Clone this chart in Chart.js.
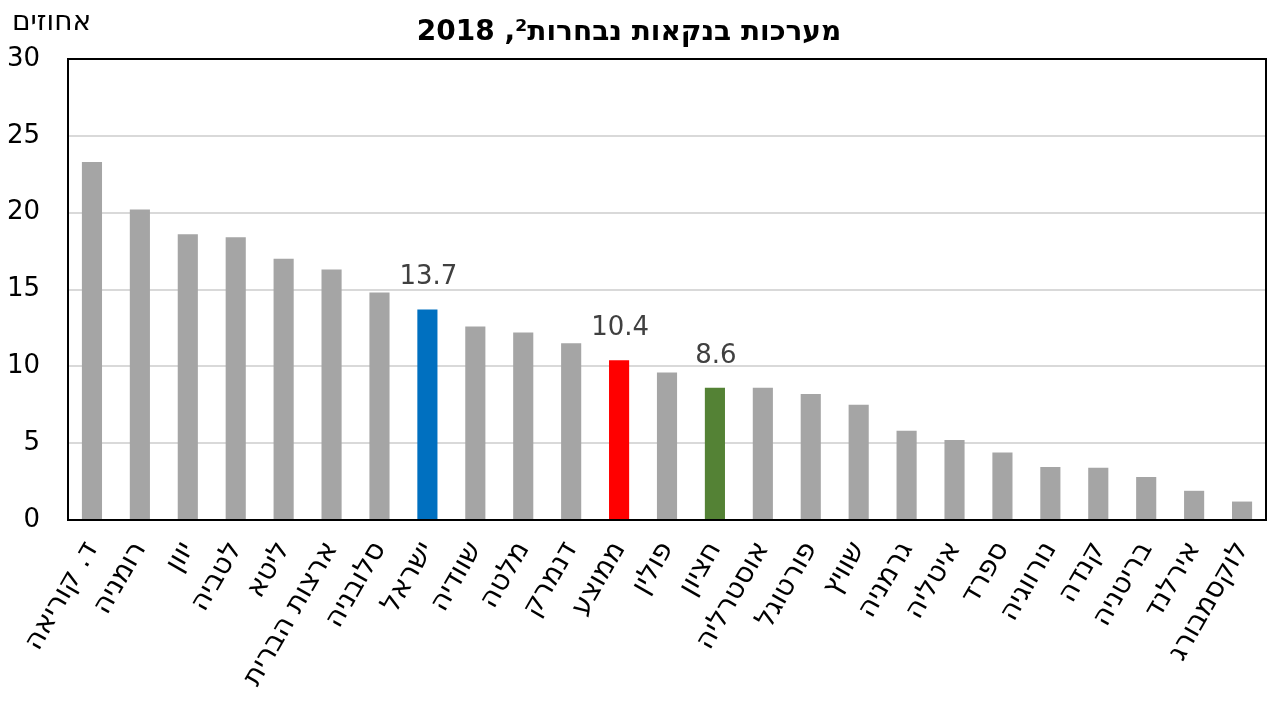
<!DOCTYPE html>
<html>
<head>
<meta charset="utf-8">
<script src="https://cdn.jsdelivr.net/npm/chart.js@4"></script>
<style>
  body { margin: 0; background: #fff; }
  #wrap { position: relative; width: 1268px; height: 702px; }
  #title { position: absolute; left: 0; width: 1258px; top: 14px; text-align: center;
           font: bold 28px "DejaVu Sans", sans-serif; color: #000; }
  #unit { position: absolute; left: 12px; top: 4px; font: 28px "DejaVu Sans", sans-serif; }
</style>
</head>
<body>
<div id="wrap">
  <canvas id="chart" width="1268" height="702"></canvas>
  <div id="title" dir="rtl">מערכות בנקאות נבחרות², 2018</div>
  <div id="unit" dir="rtl">אחוזים</div>
</div>
<script>
const countries = ['ד. קוריאה', 'רומניה', 'יוון', 'לטביה', 'ליטא', 'ארצות הברית', 'סלובניה', 'ישראל',
  'שוודיה', 'מלטה', 'דנמרק', 'ממוצע', 'פולין', 'חציון', 'אוסטרליה', 'פורטוגל', 'שוויץ',
  'גרמניה', 'איטליה', 'ספרד', 'נורווגיה', 'קנדה', 'בריטניה', 'אירלנד', 'לוקסמבורג']
const values = [23.3, 20.2, 18.6, 18.4, 17.0, 16.3, 14.8, 13.7,
  12.6, 12.2, 11.5, 10.4, 9.6, 8.6, 8.6, 8.2, 7.5,
  5.8, 5.2, 4.4, 3.45, 3.4, 2.8, 1.9, 1.2]
const yTicks = [0, 5, 10, 15, 20, 25, 30]
const labelIdx = [7, 11, 13]

const numFont = '"DejaVu Sans", sans-serif'
const hebFont = '"DejaVu Sans", sans-serif'

const barColors = countries.map((c, i) => {
  if (c === 'ישראל') return '#0070c0'
  if (c === 'ממוצע') return '#ff0000'
  if (c === 'חציון') return '#548235'
  return '#a5a5a5'
})

// frame round the plot and value labels on highlighted bars
const framePlugin = {
  id: 'frame',
  afterDatasetsDraw(chart) {
    const ctx = chart.ctx
    const meta = chart.getDatasetMeta(0)
    ctx.save()
    ctx.fillStyle = '#404040'
    ctx.font = '26px ' + numFont
    ctx.textAlign = 'center'
    ctx.textBaseline = 'bottom'
    labelIdx.forEach(i => {
      const bar = meta.data[i]
      ctx.fillText(values[i].toFixed(1), bar.x + 1, bar.y - 19)
    })
    const a = chart.chartArea
    ctx.strokeStyle = '#000'
    ctx.lineWidth = 2
    ctx.strokeRect(a.left, a.top, a.right - a.left, a.bottom - a.top)
    ctx.restore()
  }
}

new Chart(document.getElementById('chart'), {
  type: 'bar',
  data: {
    labels: countries,
    datasets: [{
      data: values,
      backgroundColor: barColors,
      categoryPercentage: 1,
      barPercentage: 0.42
    }]
  },
  options: {
    responsive: false,
    animation: false,
    layout: { padding: { top: 59, right: 2, left: 0, bottom: 0 } },
    plugins: { legend: { display: false }, tooltip: { enabled: false } },
    scales: {
      x: {
        border: { display: false },
        grid: { display: false },
        ticks: {
          autoSkip: false, minRotation: 60, maxRotation: 60, padding: 8,
          color: '#000', font: { size: 28, family: hebFont }
        },
        afterFit(scale) {
          scale.height = 182
          scale.paddingLeft = 0
          scale.paddingRight = 0
        }
      },
      y: {
        min: 0, max: 30,
        border: { display: false },
        grid: { color: '#d9d9d9', lineWidth: 2, drawTicks: false },
        afterBuildTicks(scale) { scale.ticks = yTicks.map(v => ({ value: v })) },
        ticks: { padding: 28, color: '#000', font: { size: 26, family: numFont } },
        afterFit(scale) {
          scale.width = 68
          scale.paddingTop = 0
          scale.paddingBottom = 0
        }
      }
    }
  },
  plugins: [framePlugin]
})
</script>
</body>
</html>
